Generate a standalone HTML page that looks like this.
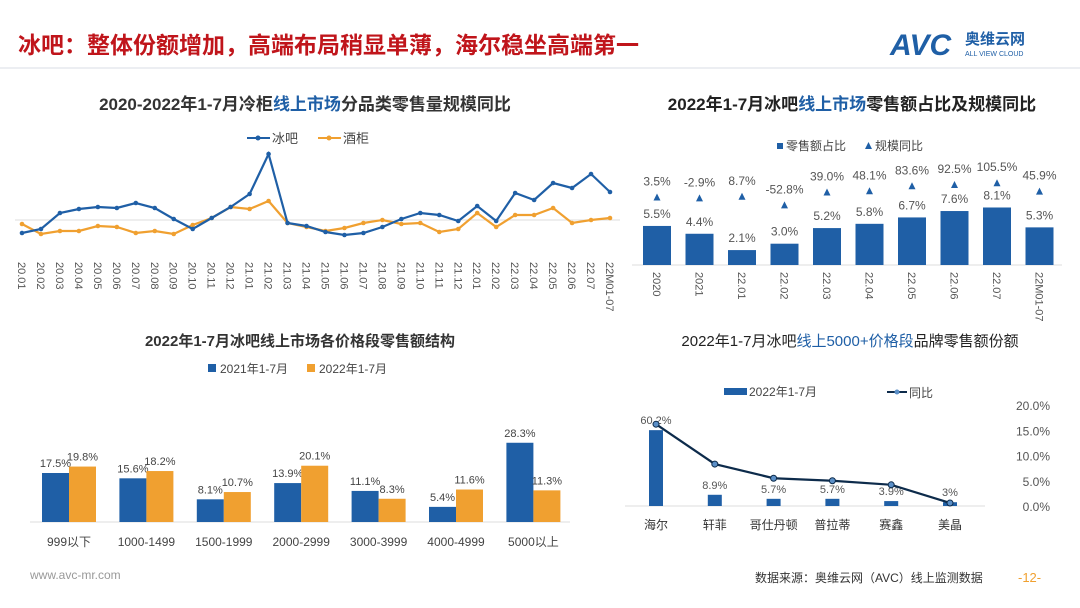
<!DOCTYPE html>
<html><head><meta charset="utf-8">
<style>
html,body{margin:0;padding:0;background:#fff;}
body{width:1080px;height:608px;overflow:hidden;position:relative;font-family:"Liberation Sans","Noto Sans CJK SC",sans-serif;}
svg{position:absolute;left:0;top:0;}
</style></head><body>
<svg id="s" width="1080" height="608" xmlns="http://www.w3.org/2000/svg" font-family="Liberation Sans, Noto Sans CJK SC, sans-serif">
<text x="18" y="53" font-size="23" font-weight="bold" fill="#c0151b">冰吧：整体份额增加，高端布局稍显单薄，海尔稳坐高端第一</text>
<g>
<text x="890" y="55" font-size="30" font-weight="bold" font-style="italic" fill="#1f5fa6">AVC</text>
<text x="965" y="44" font-size="15" font-weight="bold" fill="#1f5fa6">奥维云网</text>
<text x="965" y="56" font-size="7" fill="#1f5fa6">ALL VIEW CLOUD</text>
</g>
<line x1="0" y1="68" x2="1080" y2="68" stroke="#d8dde6" stroke-width="1"/>
<text x="305" y="110" font-size="17" font-weight="bold" fill="#333" text-anchor="middle">2020-2022年1-7月冷柜<tspan fill="#1f5fa6">线上市场</tspan>分品类零售量规模同比</text>
<text x="852" y="110" font-size="17" font-weight="bold" fill="#222" text-anchor="middle">2022年1-7月冰吧<tspan fill="#1f5fa6">线上市场</tspan>零售额占比及规模同比</text>
<text x="300" y="346" font-size="15" font-weight="bold" fill="#333" text-anchor="middle">2022年1-7月冰吧线上市场各价格段零售额结构</text>
<text x="850" y="346" font-size="15" fill="#222" text-anchor="middle">2022年1-7月冰吧<tspan fill="#1f5fa6">线上5000+价格段</tspan>品牌零售额份额</text>
<g id="c1"></g>
<g id="c2"></g>
<g id="c3"></g>
<g id="c4"></g>
<text x="30" y="579" font-size="12" fill="#999">www.avc-mr.com</text>
<text x="755" y="582" font-size="12" fill="#333">数据来源：奥维云网（AVC）线上监测数据</text>
<text x="1018" y="582" font-size="13" fill="#f0a030">-12-</text>
</svg>
<script>
const months=["20.01","20.02","20.03","20.04","20.05","20.06","20.07","20.08","20.09","20.10","20.11","20.12","21.01","21.02","21.03","21.04","21.05","21.06","21.07","21.08","21.09","21.10","21.11","21.12","22.01","22.02","22.03","22.04","22.05","22.06","22.07","22M01-07"];
const bingba=[27,31,47,51,53,52,57,52,41,31,42,53,66,106,37,34,28,25,27,33,41,47,45,39,54,39,67,60,77,72,86,68];
const jiugui=[36,26,29,29,34,33,27,29,26,35,42,53,51,59,37,33,29,32,37,40,36,37,28,31,47,33,45,45,52,37,40,42];
const c2cats=["2020","2021","22.01","22.02","22.03","22.04","22.05","22.06","22.07","22M01-07"];
const c2share=[5.5,4.4,2.1,3.0,5.2,5.8,6.7,7.6,8.1,5.3];
const c2growth=[3.5,-2.9,8.7,-52.8,39.0,48.1,83.6,92.5,105.5,45.9];
const c3cats=["999以下","1000-1499","1500-1999","2000-2999","3000-3999","4000-4999","5000以上"];
const c3y2021=[17.5,15.6,8.1,13.9,11.1,5.4,28.3];
const c3y2022=[19.8,18.2,10.7,20.1,8.3,11.6,11.3];
const c4cats=["海尔","轩菲","哥仕丹顿","普拉蒂","赛鑫","美晶"];
const c4share=[60.2,8.9,5.7,5.7,3.9,3];
const c4labels=["60.2%","8.9%","5.7%","5.7%","3.9%","3%"];
const c4yoy=[16.2,8.3,5.5,5.0,4.2,0.6];
const c4ticks=[0,5,10,15,20];
const NS="http://www.w3.org/2000/svg";
const BLUE="#1f5fa6",ORANGE="#f0a030";
function el(p,t,a,txt){const e=document.createElementNS(NS,t);for(const k in a)e.setAttribute(k,a[k]);if(txt!==undefined)e.textContent=txt;p.appendChild(e);return e;}
// chart1
const c1=document.getElementById('c1');
const x1=i=>22+i*(588/31), y1=v=>260-v;
el(c1,'line',{x1:15,x2:620,y1:220,y2:220,stroke:'#ddd'});
function series(arr,col,name){
  const pl=el(c1,'polyline',{points:arr.map((v,i)=>x1(i)+','+y1(v)).join(' '),fill:'none',stroke:col,'stroke-width':2.2});
  
  arr.forEach((v,i)=>{const c=el(c1,'circle',{cx:x1(i),cy:y1(v),r:2.3,fill:col});
    });
}
series(jiugui,ORANGE,'jiugui');series(bingba,BLUE,'bingba');
months.forEach((m,i)=>{const t=el(c1,'text',{transform:`translate(${x1(i)-4},262) rotate(90)`,'font-size':11,fill:'#555'},m);
  });
let lg=el(c1,'g',{});
el(lg,'line',{x1:247,x2:270,y1:138,y2:138,stroke:BLUE,'stroke-width':2});el(lg,'circle',{cx:258,cy:138,r:2.5,fill:BLUE});
el(lg,'text',{x:272,y:143,'font-size':13,fill:'#444'},'冰吧');
lg=el(c1,'g',{});
el(lg,'line',{x1:318,x2:341,y1:138,y2:138,stroke:ORANGE,'stroke-width':2});el(lg,'circle',{cx:329,cy:138,r:2.5,fill:ORANGE});
el(lg,'text',{x:343,y:143,'font-size':13,fill:'#444'},'酒柜');
// chart2
const c2=document.getElementById('c2');
const x2=i=>657+i*42.5, y2=v=>265-v*7.1, yg=v=>198-v*0.14;
el(c2,'line',{x1:632,x2:1062,y1:265,y2:265,stroke:'#ddd'});
c2cats.forEach((c,i)=>{
  const b=el(c2,'rect',{x:x2(i)-14,y:y2(c2share[i]),width:28,height:265-y2(c2share[i]),fill:BLUE});
  
  el(c2,'text',{x:x2(i),y:y2(c2share[i])-8,'font-size':12,fill:'#555','text-anchor':'middle'},c2share[i].toFixed(1)+'%');
  const ty=yg(c2growth[i]);
  const tr=el(c2,'path',{d:`M${x2(i)-3.5},${ty+3}L${x2(i)+3.5},${ty+3}L${x2(i)},${ty-4}Z`,fill:BLUE});
  
  el(c2,'text',{x:x2(i),y:ty-12,'font-size':12,fill:'#555','text-anchor':'middle'},c2growth[i].toFixed(1)+'%');
  el(c2,'text',{transform:`translate(${x2(i)-4},272) rotate(90)`,'font-size':11,fill:'#555'},c);
});
lg=el(c2,'g',{});
el(lg,'rect',{x:777,y:143,width:6,height:6,fill:BLUE});el(lg,'text',{x:786,y:150,'font-size':12,fill:'#444'},'零售额占比');
lg=el(c2,'g',{});
el(lg,'path',{d:'M865,149L872,149L868.5,142Z',fill:BLUE});el(lg,'text',{x:875,y:150,'font-size':12,fill:'#444'},'规模同比');
// chart3
const c3=document.getElementById('c3');
const x3=i=>69+i*77.4, y3=v=>522-v*2.8;
el(c3,'line',{x1:30,x2:570,y1:522,y2:522,stroke:'#ddd'});
c3cats.forEach((c,i)=>{
  [[c3y2021,BLUE,-27],[c3y2022,ORANGE,0]].forEach(([arr,col,off])=>{
    const b=el(c3,'rect',{x:x3(i)+off,y:y3(arr[i]),width:27,height:522-y3(arr[i]),fill:col});
    
    el(c3,'text',{x:x3(i)+off+13.5,y:y3(arr[i])-6,'font-size':11,fill:'#444','text-anchor':'middle'},arr[i].toFixed(1)+'%');
  });
  el(c3,'text',{x:x3(i),y:546,'font-size':12,fill:'#444','text-anchor':'middle'},c);
});
lg=el(c3,'g',{});
el(lg,'rect',{x:208,y:364,width:8,height:8,fill:BLUE});el(lg,'text',{x:220,y:373,'font-size':12,fill:'#444'},'2021年1-7月');
lg=el(c3,'g',{});
el(lg,'rect',{x:307,y:364,width:8,height:8,fill:ORANGE});el(lg,'text',{x:319,y:373,'font-size':12,fill:'#444'},'2022年1-7月');
// chart4
const c4=document.getElementById('c4');
const x4=i=>656+i*58.8, yb=v=>506-v*1.26, yr=v=>506-v*5.05;
el(c4,'line',{x1:625,x2:985,y1:506,y2:506,stroke:'#ddd'});
c4ticks.forEach(t=>el(c4,'text',{x:1050,y:yr(t)+5,'font-size':12,fill:'#555','text-anchor':'end'},t.toFixed(1)+'%'));
c4cats.forEach((c,i)=>{
  const b=el(c4,'rect',{x:x4(i)-7,y:yb(c4share[i]),width:14,height:506-yb(c4share[i]),fill:BLUE});
  
  el(c4,'text',{x:x4(i),y:yb(c4share[i])-6,'font-size':11,fill:'#555','text-anchor':'middle'},c4labels[i]);
  el(c4,'text',{x:x4(i),y:529,'font-size':12,fill:'#333','text-anchor':'middle'},c);
});
const pl=el(c4,'polyline',{points:c4yoy.map((v,i)=>x4(i)+','+yr(v)).join(' '),fill:'none',stroke:'#0d2b4b','stroke-width':2.2});

c4yoy.forEach((v,i)=>{const c=el(c4,'circle',{cx:x4(i),cy:yr(v),r:3,fill:'#5b8fc7',stroke:'#0d2b4b','stroke-width':1});
  });
lg=el(c4,'g',{});
el(lg,'rect',{x:724,y:388,width:23,height:7,fill:BLUE});el(lg,'text',{x:749,y:396,'font-size':12,fill:'#444'},'2022年1-7月');
lg=el(c4,'g',{});
el(lg,'line',{x1:887,x2:907,y1:392,y2:392,stroke:'#0d2b4b','stroke-width':2});el(lg,'circle',{cx:897,cy:392,r:2.5,fill:'#5b8fc7'});
el(lg,'text',{x:909,y:397,'font-size':12,fill:'#444'},'同比');
</script>
</body></html>
